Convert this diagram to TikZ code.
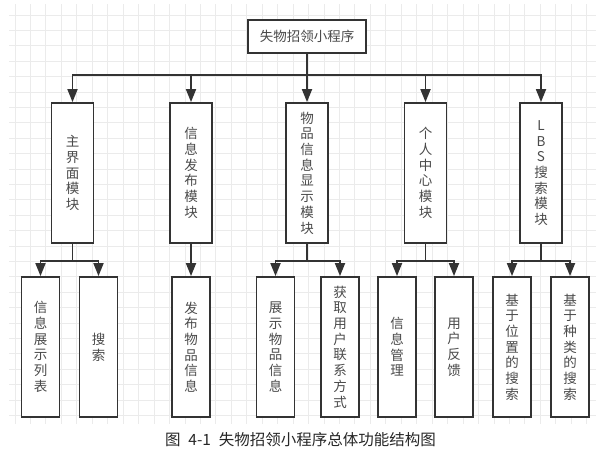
\documentclass[tikz,border=0pt]{standalone}
\usepackage{fontspec}
\newfontfamily\cjk{Noto Sans CJK SC}
\usetikzlibrary{arrows.meta}
\definecolor{boxc}{HTML}{333333}
\definecolor{txtc}{HTML}{4A4A4A}
\definecolor{gridc}{HTML}{EBEBEB}
\begin{document}
\begin{tikzpicture}[x=1pt,y=-1pt,
  box/.style={draw=boxc, line width=1.8pt, fill=white, inner sep=0pt, text=txtc,
    font=\cjk\fontsize{13.5}{15.7}\selectfont, align=center},
  topbox/.style={box, minimum width=118pt, minimum height=33pt},
  midbox/.style={box, minimum width=42pt, minimum height=140pt},
  leafbox/.style={box, minimum width=38pt, minimum height=140pt},
  arr/.style={draw=boxc, line width=1.8pt, -{Triangle[length=13pt,width=10pt]}},
  gridline/.style={draw=gridc, line width=0.9pt}]
\useasboundingbox (0,0) rectangle (604,464);
% background grid
\foreach \i in {0,...,37} \draw[gridline] ({15+15.45*\i},4) -- ({15+15.45*\i},424);
\foreach \j in {0,...,26} \draw[gridline] (9,{15+15.4*\j}) -- (596,{15+15.4*\j});
% root
\node[topbox] (top) at (307,36.5) {失物招领小程序};
% level 2
\node[midbox] (m1) at (72.5,173) {主\\界\\面\\模\\块};
\node[midbox] (m2) at (191,173) {信\\息\\发\\布\\模\\块};
\node[midbox] (m3) at (307,173) {物\\品\\信\\息\\显\\示\\模\\块};
\node[midbox] (m4) at (425.5,173) {个\\人\\中\\心\\模\\块};
\node[midbox] (m5) at (541,173) {L\\B\\S\\搜\\索\\模\\块};
% level 3
\node[leafbox] (s1) at (40.5,347) {信\\息\\展\\示\\列\\表};
\node[leafbox] (s2) at (98.5,347) {搜\\索};
\node[leafbox] (s3) at (191,347) {发\\布\\物\\品\\信\\息};
\node[leafbox] (s4) at (275.5,347) {展\\示\\物\\品\\信\\息};
\node[leafbox] (s5) at (340,347) {获\\取\\用\\户\\联\\系\\方\\式};
\node[leafbox] (s6) at (397,347) {信\\息\\管\\理};
\node[leafbox] (s7) at (454,347) {用\\户\\反\\馈};
\node[leafbox] (s8) at (512,347) {基\\于\\位\\置\\的\\搜\\索};
\node[leafbox] (s9) at (570,347) {基\\于\\种\\类\\的\\搜\\索};
% connectors
\coordinate (busT) at (307,75);
\foreach \n in {m1,m2,m3,m4,m5} \draw[arr] (top.south) -- (busT) -| (\n.north);
\draw[arr] (m1.south) -- ++(0,17) -| (s1.north);
\draw[arr] (m1.south) -- ++(0,17) -| (s2.north);
\draw[arr] (m2.south) -- (s3.north);
\draw[arr] (m3.south) -- ++(0,17) -| (s4.north);
\draw[arr] (m3.south) -- ++(0,17) -| (s5.north);
\draw[arr] (m4.south) -- ++(0,17) -| (s6.north);
\draw[arr] (m4.south) -- ++(0,17) -| (s7.north);
\draw[arr] (m5.south) -- ++(0,17) -| (s8.north);
\draw[arr] (m5.south) -- ++(0,17) -| (s9.north);
% caption
\node[text=black!85, font=\cjk\fontsize{15.5}{17}\selectfont] (cap) at (300.5,440) {图\hspace{0.5em}4-1\hspace{0.5em}失物招领小程序总体功能结构图};
\end{tikzpicture}
\end{document}
